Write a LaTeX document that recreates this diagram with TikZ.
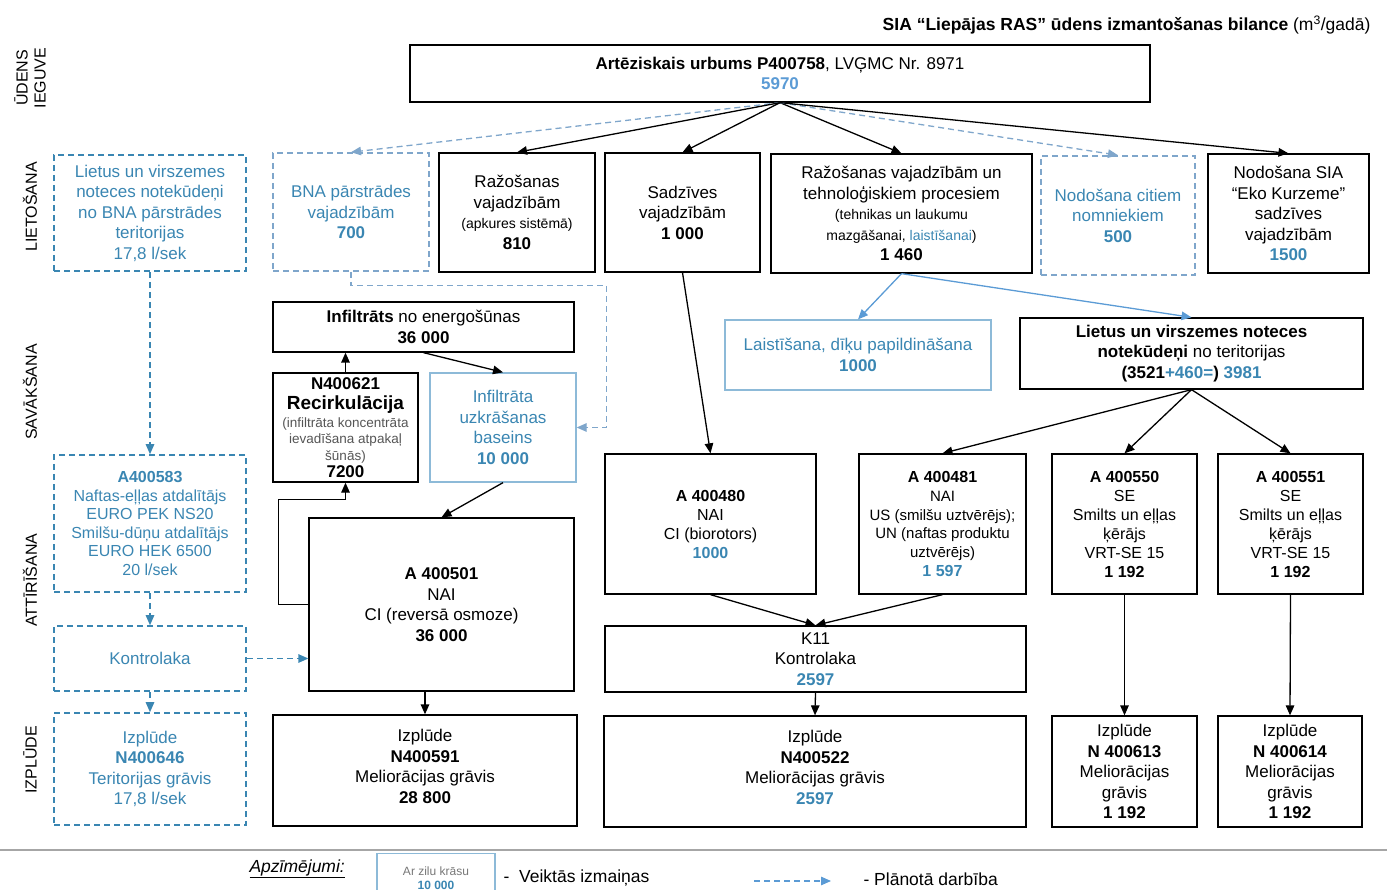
\documentclass[tikz,border=0pt]{standalone}
\usepackage{fontspec}
\setmainfont{Liberation Sans}
\usetikzlibrary{arrows.meta}
\definecolor{planblue}{HTML}{3A86B2}
\definecolor{dashblue}{HTML}{7FA6CB}
\definecolor{newblue}{HTML}{8DBAD8}
\definecolor{arrowblue}{HTML}{5B9BD5}
\definecolor{notegray}{HTML}{555555}
\newcommand{\smalltxt}{\fontsize{14}{17}\selectfont}
\newcommand{\notetxt}{\fontsize{13.5}{15}\selectfont\color{notegray}}
\tikzset{
  box/.style={draw,line width=1.3pt,align=center,inner sep=2pt,font=\fontsize{17}{20.5}\selectfont},
  midbox/.style={box,font=\fontsize{16}{19}\selectfont},
  planbox/.style={box,draw=planblue,dash pattern=on 6pt off 4pt,line width=1.6pt,text=planblue},
  newbox/.style={box,draw=newblue,line width=1.3pt,text=planblue},
  flow/.style={-{Triangle[length=10pt,width=8.5pt]},line width=1.3pt},
  planflow/.style={flow,planblue,dash pattern=on 6pt off 4pt},
  newflow/.style={flow,arrowblue},
  rowlabel/.style={rotate=90,align=center,font=\fontsize{16}{18}\selectfont},
  titletext/.style={font=\fontsize{17.5}{20}\selectfont},
  legendtext/.style={anchor=west,font=\fontsize{17.5}{20}\selectfont}
}
\begin{document}
\begin{tikzpicture}[x=1pt,y=-1pt]
  \useasboundingbox (0,0) rectangle (1387,890);
  \clip (0,0) rectangle (1387,890);
  % heading and row labels
  \node[titletext,anchor=east] (title) at (1374,25) {\textbf{SIA “Liepājas RAS” ūdens izmantošanas bilance} (m\textsuperscript{3}/gadā)};
  \node[rowlabel] (lbliegu) at (30,78) {ŪDENS\\IEGUVE};
  \node[rowlabel] (lblliet) at (30,207) {LIETOŠANA};
  \node[rowlabel] (lblsav) at (30,392) {SAVĀKŠANA};
  \node[rowlabel] (lblatt) at (30,580) {ATTĪRĪŠANA};
  \node[rowlabel] (lblizp) at (30,760) {IZPLŪDE};

  % source
  \node[box,minimum width=740pt,minimum height=57pt] (src) at (780,73.5) {\textbf{Artēziskais urbums P400758}, LVĢMC Nr. 8971\\\textcolor{arrowblue}{\textbf{5970}}};

  % usage row
  \node[planbox,minimum width=192pt,minimum height=116pt] (rainbna) at (150,213) {Lietus un virszemes\\noteces notekūdeņi\\no BNA pārstrādes\\teritorijas\\17,8 l/sek};
  \node[planbox,draw=dashblue,minimum width=156pt,minimum height=118pt] (bna) at (351,212) {BNA pārstrādes\\vajadzībām\\\textbf{700}};
  \node[box,minimum width=156pt,minimum height=119pt] (razheat) at (517,212.5) {Ražošanas\\vajadzībām\\{\smalltxt (apkures sistēmā)}\\\textbf{810}};
  \node[box,minimum width=155pt,minimum height=119pt] (sadz) at (682.5,212.5) {Sadzīves\\vajadzībām\\\textbf{1 000}};
  \node[box,minimum width=261pt,minimum height=119pt] (razproc) at (901.5,213.5) {Ražošanas vajadzībām un\\tehnoloģiskiem procesiem\\{\smalltxt (tehnikas un laukumu}\\{\smalltxt mazgāšanai, \textcolor{planblue}{laistīšanai})}\\\textbf{1 460}};
  \node[planbox,draw=dashblue,minimum width=154pt,minimum height=119pt] (nodcit) at (1118,215.5) {Nodošana citiem\\nomniekiem\\\textbf{500}};
  \node[box,minimum width=161pt,minimum height=119pt] (eko) at (1288.5,213.5) {Nodošana SIA\\“Eko Kurzeme”\\sadzīves\\vajadzībām\\\textcolor{planblue}{\textbf{1500}}};

  % collection row
  \node[box,minimum width=301pt,minimum height=50pt] (infil) at (423.5,327) {\textbf{Infiltrāts} no energošūnas\\\textbf{36 000}};
  \node[box,inner sep=1pt,minimum width=145pt,minimum height=109pt] (recirc) at (345.5,427.5) {\textbf{N400621}\\{\fontsize{19}{21}\selectfont\textbf{Recirkulācija}}\\[-3pt]{\notetxt (infiltrāta koncentrāta}\\[-4pt]{\notetxt ievadīšana atpakaļ}\\[-4pt]{\notetxt šūnās)}\\[-3pt]\textbf{7200}};
  \node[newbox,minimum width=146pt,minimum height=109pt] (basein) at (503,427.5) {Infiltrāta\\uzkrāšanas\\baseins\\\textbf{10 000}};
  \node[newbox,minimum width=266pt,minimum height=70pt] (laist) at (858,355) {Laistīšana, dīķu papildināšana\\\textbf{1000}};
  \node[box,minimum width=343pt,minimum height=71pt] (rainsite) at (1191.5,353.5) {\textbf{Lietus un virszemes noteces}\\\textbf{notekūdeņi} no teritorijas\\\textbf{(3521\textcolor{planblue}{+460=}) \textcolor{planblue}{3981}}};

  % treatment row
  \node[planbox,font=\fontsize{16}{18.5}\selectfont,minimum width=192pt,minimum height=137pt] (sep) at (150,523.5) {\textbf{A400583}\\Naftas-eļļas atdalītājs\\EURO PEK NS20\\Smilšu-dūņu atdalītājs\\EURO HEK 6500\\20 l/sek};
  \node[planbox,minimum width=192pt,minimum height=65pt] (kontrola) at (150,658.5) {Kontrolaka};
  \node[box,minimum width=265pt,minimum height=173pt] (a501) at (441.5,604.5) {\textbf{A 400501}\\NAI\\CI (reversā osmoze)\\\textbf{36 000}};
  \node[midbox,minimum width=211pt,minimum height=140pt] (a480) at (710.5,524) {\textbf{A 400480}\\NAI\\CI (biorotors)\\\textcolor{planblue}{\textbf{1000}}};
  \node[midbox,font=\fontsize{15}{18.8}\selectfont,minimum width=167pt,minimum height=140pt] (a481) at (942.5,524) {{\fontsize{16}{19}\selectfont\textbf{A 400481}}\\NAI\\US (smilšu uztvērējs);\\UN (naftas produktu\\uztvērējs)\\{\fontsize{16}{19}\selectfont\textcolor{planblue}{\textbf{1 597}}}};
  \node[midbox,minimum width=145pt,minimum height=140pt] (a550) at (1124.5,524) {\textbf{A 400550}\\SE\\Smilts un eļļas\\ķērājs\\VRT-SE 15\\\textbf{1 192}};
  \node[midbox,minimum width=145pt,minimum height=140pt] (a551) at (1290.5,524) {\textbf{A 400551}\\SE\\Smilts un eļļas\\ķērājs\\VRT-SE 15\\\textbf{1 192}};
  \node[box,minimum width=421pt,minimum height=66pt] (k11) at (815.5,659) {K11\\Kontrolaka\\\textcolor{planblue}{\textbf{2597}}};

  % outlets
  \node[planbox,minimum width=192pt,minimum height=112pt] (izp1) at (150,769) {Izplūde\\\textbf{N400646}\\Teritorijas grāvis\\17,8 l/sek};
  \node[box,minimum width=304pt,minimum height=111pt] (izp2) at (425,770.5) {Izplūde\\\textbf{N400591}\\Meliorācijas grāvis\\\textbf{28 800}\\[-12pt]\mbox{}};
  \node[box,minimum width=422pt,minimum height=111pt] (izp3) at (815,771.5) {Izplūde\\\textbf{N400522}\\Meliorācijas grāvis\\\textcolor{planblue}{\textbf{2597}}\\[-12pt]\mbox{}};
  \node[box,minimum width=145pt,minimum height=111pt] (izp4) at (1124.5,771.5) {Izplūde\\\textbf{N 400613}\\Meliorācijas\\grāvis\\\textbf{1 192}};
  \node[box,minimum width=144pt,minimum height=111pt] (izp5) at (1290,771.5) {Izplūde\\\textbf{N 400614}\\Meliorācijas\\grāvis\\\textbf{1 192}};

  % flows from the well
  \draw[planflow,dashblue] (src.south) -- (bna.north);
  \draw[flow] (src.south) -- (razheat.north);
  \draw[flow] (src.south) -- (sadz.north);
  \draw[flow] (src.south) -- (razproc.north);
  \draw[planflow,dashblue] (src.south) -- (nodcit.north);
  \draw[flow] (src.south) -- (eko.north);

  \draw[flow] (sadz.south) -- (a480.north);
  \draw[newflow] (razproc.south) -- (laist.north);
  \draw[newflow] (razproc.south) -- (rainsite.north);
  \draw[flow] (rainsite.south) -- (a481.north);
  \draw[flow] (rainsite.south) -- (a550.north);
  \draw[flow] (rainsite.south) -- (a551.north);
  \draw[flow] (a480.south) -- (k11.north);
  \draw[flow] (a481.south) -- (k11.north);
  \draw[flow] (k11.south) -- (izp3.north);
  \draw[flow] (a550.south) -- (izp4.north);
  \draw[flow] (a551.south) -- (izp5.north);

  % leachate loop
  \draw[flow] (recirc.north) -- (recirc.north |- infil.south);
  \draw[flow] (infil.south) -- (basein.north);
  \draw[flow] (basein.south) -- (a501.north);
  \draw[flow] (a501.west) -- ++(-30,0) |- ([yshift=-17pt]recirc.south) -- (recirc.south);
  \draw[flow] (izp2.north |- a501.south) -- (izp2.north);
  \draw[planflow,dashblue] (bna.south) -- ++(0,14) -| ([xshift=30pt]basein.east) -- (basein.east);

  % planned BNA line
  \draw[planflow] (rainbna.south) -- (sep.north);
  \draw[planflow] (sep.south) -- (kontrola.north);
  \draw[planflow] (kontrola.south) -- (izp1.north);
  \draw[planflow] (kontrola.east) -- (kontrola.east -| a501.west);

  % legend
  \draw[gray!70,line width=1.3pt] (0,850) -- (1387,850);
  \node[legendtext] (legtitle) at (246,869) {\underline{\textit{Apzīmējumi:}}};
  \node[newbox,anchor=north,minimum width=118pt,minimum height=50pt,font=\fontsize{12}{14}\selectfont] (legbox) at (436,853) {\textcolor{notegray!80}{Ar zilu krāsu}\\\textbf{10 000}};
  \node[legendtext] (legnew) at (500,878) {-~ Veiktās izmaiņas};
  \coordinate (legA) at (754,881);
  \coordinate (legB) at (831,881);
  \draw[planflow,arrowblue] (legA) -- (legB);
  \node[legendtext] (legplan) at (860,879) {- Plānotā darbība};
\end{tikzpicture}
\end{document}
